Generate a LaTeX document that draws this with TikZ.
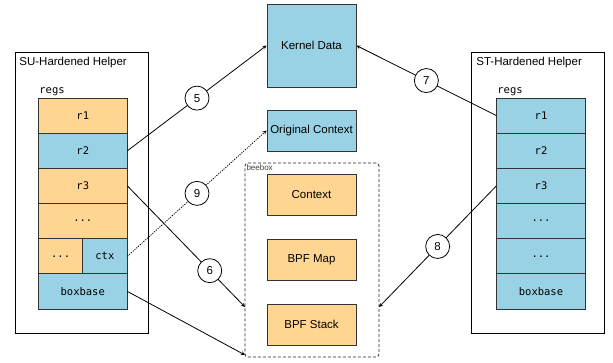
\documentclass[tikz,border=0pt]{standalone}
\usepackage{fontspec}
\setmainfont{Liberation Sans}
\setmonofont{DejaVu Sans Mono}
\definecolor{regblue}{HTML}{9AD2E5}
\definecolor{regorange}{HTML}{FFD592}
\begin{document}
\begin{tikzpicture}[x=1pt, y=-1pt, >=stealth, line width=0.8pt,
  every node/.style={font=\fontsize{11.5}{13}\selectfont},
  helper/.style={draw=black, minimum width=133pt, minimum height=281pt},
  cell/.style={draw=black!80, minimum width=88.5pt, minimum height=35.17pt, inner sep=0pt, font=\ttfamily\fontsize{10.5}{12}\selectfont},
  halfcell/.style={cell, minimum width=44.25pt},
  dbox/.style={draw=black!80, minimum width=89pt, minimum height=41pt, inner sep=0pt},
  num/.style={shape=circle, draw=black, fill=white, solid, minimum size=24pt, inner sep=0pt}]
\useasboundingbox (0,0) rectangle (613,362);

% SU-hardened helper
\node[helper] (su) at (81.5,192.5) {};
\node[anchor=north west, inner sep=0pt] (sutitle) at (19,57) {SU-Hardened Helper};
\node[anchor=south west, inner sep=1pt, font=\ttfamily\fontsize{10.5}{12}\selectfont] (suregs) at (38,97) {regs};
\node[cell, fill=regorange] (sur1) at (82.75,115.6) {r1};
\node[cell, fill=regblue] (sur2) at (82.75,150.75) {r2};
\node[cell, fill=regorange] (sur3) at (82.75,185.9) {r3};
\node[cell, fill=regorange] (sudots) at (82.75,221.1) {...};
\node[halfcell, fill=regorange] (sudots2) at (60.6,256.25) {...};
\node[halfcell, fill=regblue] (suctx) at (104.9,256.25) {ctx};
\node[cell, fill=regblue] (suboxbase) at (82.75,291.4) {boxbase};

% ST-hardened helper
\node[helper] (st) at (537.5,192.5) {};
\node[anchor=north west, inner sep=0pt] (sttitle) at (476,57) {ST-Hardened Helper};
\node[anchor=south west, inner sep=1pt, font=\ttfamily\fontsize{10.5}{12}\selectfont] (stregs) at (496,97) {regs};
\node[cell, fill=regblue] (str1) at (541,115.6) {r1};
\node[cell, fill=regblue] (str2) at (541,150.75) {r2};
\node[cell, fill=regblue] (str3) at (541,185.9) {r3};
\node[cell, fill=regblue] (stdots) at (541,221.1) {...};
\node[cell, fill=regblue] (stdots2) at (541,256.25) {...};
\node[cell, fill=regblue] (stboxbase) at (541,291.4) {boxbase};

% kernel side
\node[dbox, fill=regblue, minimum height=83pt] (kd) at (311.5,45.5) {Kernel Data};
\node[dbox, fill=regblue] (oc) at (311.5,130.5) {Original Context};

% beebox
\node[draw=black!85, dash pattern=on 3pt off 2pt, rounded corners=3pt, minimum width=134pt, minimum height=194pt] (bee) at (312,260) {};
\node[anchor=north west, inner sep=1.5pt, text=black!75, font=\fontsize{8}{9}\selectfont] (beelbl) at (bee.north west) {beebox};
\node[dbox, fill=regorange] (ctx) at (311.5,195) {Context};
\node[dbox, fill=regorange] (map) at (311.5,259.5) {BPF Map};
\node[dbox, fill=regorange] (stack) at (311.5,324.5) {BPF Stack};
\coordinate (bee6) at (245,307);
\coordinate (beebase) at (245,355);
\coordinate (bee8) at (379,307);

% accesses
\path[->] (sur2.east) edge node[num] {5} (kd.west);
\path[->] (str1.west) edge node[num] {7} (kd.east);
\path[->, dash pattern=on 1.2pt off 1.2pt] (suctx.east) edge node[num] {9} (oc.west);
\path[->] (sur3.east) edge node[num, pos=0.7] {6} (bee6);
\path[->] (suboxbase.east) edge (beebase);
\path[->] (str3.west) edge node[num] {8} (bee8);
\end{tikzpicture}
\end{document}
